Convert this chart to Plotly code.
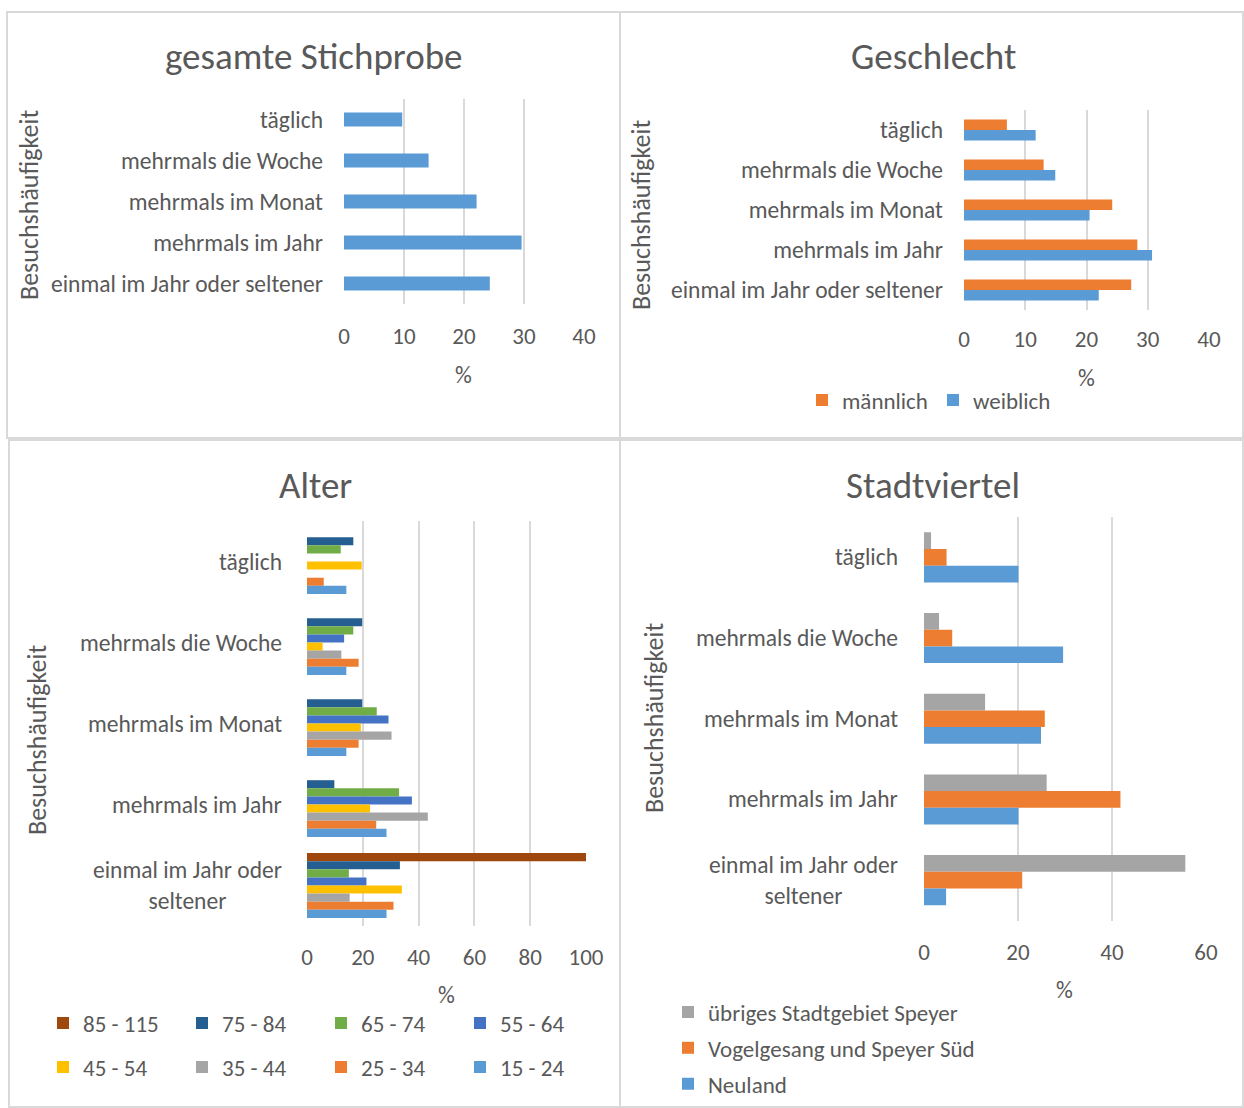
import plotly.graph_objects as go

W, H = 1244, 1108
FONT = "Carlito, Calibri, Lato, sans-serif"
TXT = "#595959"
GRID = "#d9d9d9"

categories = ["täglich", "mehrmals die Woche", "mehrmals im Monat",
              "mehrmals im Jahr", "einmal im Jahr oder seltener"]
category_labels_wrapped = ["täglich", "mehrmals die Woche", "mehrmals im Monat",
                           "mehrmals im Jahr", "einmal im Jahr oder<br>seltener"]

# gesamte Stichprobe
gesamt = [9.7, 14.1, 22.1, 29.6, 24.3]

# Geschlecht
geschlecht_names = ["männlich", "weiblich"]
maennlich = [7.0, 13.0, 24.2, 28.3, 27.3]
weiblich = [11.7, 14.9, 20.5, 30.7, 22.0]

# Alter
alter_names = ["85 - 115", "75 - 84", "65 - 74", "55 - 64",
               "45 - 54", "35 - 44", "25 - 34", "15 - 24"]
alter_85_115 = [0, 0, 0, 0, 100]
alter_75_84 = [16.6, 19.8, 19.8, 9.8, 33.3]
alter_65_74 = [12.1, 16.6, 25.0, 33.0, 15.0]
alter_55_64 = [0, 13.3, 29.2, 37.6, 21.3]
alter_45_54 = [19.6, 5.6, 19.3, 22.6, 34.0]
alter_35_44 = [0, 12.3, 30.3, 43.3, 15.3]
alter_25_34 = [6.0, 18.5, 18.5, 24.8, 31.0]
alter_15_24 = [14.1, 14.1, 14.1, 28.5, 28.5]

# Stadtviertel
viertel_names = ["übriges Stadtgebiet Speyer", "Vogelgesang und Speyer Süd", "Neuland"]
uebriges = [1.5, 3.2, 13.0, 26.1, 55.6]
vogelgesang = [4.8, 6.0, 25.7, 41.8, 20.9]
neuland = [20.1, 29.6, 24.9, 20.1, 4.7]

C_BLUE = "#5B9BD5"
C_ORANGE = "#ED7D31"
C_GRAY = "#A5A5A5"
C_YELLOW = "#FFC000"
C_BLUE2 = "#4472C4"
C_GREEN = "#70AD47"
C_DBLUE = "#255E91"
C_BROWN = "#9E480E"

LBL = 23.5    # category font size
LEG = 23      # legend font size
TICK = 23     # numeric tick labels
TITLE = 37    # panel titles
YT = 26       # y-axis titles


def px(x):
    return x / W


def py(y):
    return 1 - y / H


fig = go.Figure()


def add_group(series, names, colors, xa, ya, bar_w, legend, showlegend=True, groups=False):
    n = len(series)
    total = bar_w * n
    for i, (vals, name, col) in enumerate(zip(series, names, colors)):
        fig.add_trace(go.Bar(
            y=categories, x=vals, orientation="h", name=name,
            marker=dict(color=col, line=dict(width=0)),
            xaxis=xa, yaxis=ya, width=bar_w, offset=-total / 2 + i * bar_w,
            showlegend=showlegend, legend=legend,
            legendgroup=(name if groups else None),
            hoverinfo="x+y+name",
        ))


# Panel 1
add_group([gesamt], ["gesamt"], [C_BLUE], "x", "y", 0.34, "legend", showlegend=False)
# Panel 2
add_group([maennlich, weiblich], geschlecht_names, [C_ORANGE, C_BLUE], "x2", "y2", 0.26, "legend")
# Panel 3 (two legend rows)
alter_series = [alter_85_115, alter_75_84, alter_65_74, alter_55_64,
                alter_45_54, alter_35_44, alter_25_34, alter_15_24]
alter_colors = [C_BROWN, C_DBLUE, C_GREEN, C_BLUE2, C_YELLOW, C_GRAY, C_ORANGE, C_BLUE]
n = len(alter_series)
bw3 = 0.1
for i, (vals, name, col) in enumerate(zip(alter_series, alter_names, alter_colors)):
    fig.add_trace(go.Bar(
        y=categories, x=vals, orientation="h", name=name,
        marker=dict(color=col, line=dict(width=0)),
        xaxis="x3", yaxis="y3", width=bw3, offset=-bw3 * n / 2 + i * bw3,
        legend="legend2" if i < 4 else "legend3",
    ))
# Panel 4
add_group([uebriges, vogelgesang, neuland], viertel_names, [C_GRAY, C_ORANGE, C_BLUE],
          "x4", "y4", 0.207, "legend4", groups=True)

axis_common = dict(showgrid=True, gridcolor=GRID, gridwidth=2, zeroline=False,
                   showline=False, ticks="", automargin=False,
                   tickfont=dict(family=FONT, size=TICK, color=TXT), fixedrange=True)
ycommon = dict(type="category", categoryorder="array", categoryarray=categories,
               autorange="reversed", showgrid=False, zeroline=False, showline=False,
               ticks="", automargin=False,
               tickfont=dict(family=FONT, size=LBL, color=TXT), fixedrange=True)

fig.update_layout(
    xaxis=dict(domain=[px(344), px(584)], anchor="y", range=[0, 40], dtick=10,
               ticklabelstandoff=16, **axis_common),
    yaxis=dict(domain=[py(304), py(99)], anchor="x", ticklabelstandoff=20, **ycommon),
    xaxis2=dict(domain=[px(964), px(1209)], anchor="y2", range=[0, 40], dtick=10,
                ticklabelstandoff=13, **axis_common),
    yaxis2=dict(domain=[py(310), py(110)], anchor="x2", ticklabelstandoff=20, **ycommon),
    xaxis3=dict(domain=[px(307), px(586)], anchor="y3", range=[0, 100], dtick=20,
                ticklabelstandoff=15, **axis_common),
    yaxis3=dict(domain=[py(926), py(521)], anchor="x3", showticklabels=False, **ycommon),
    xaxis4=dict(domain=[px(924), px(1206)], anchor="y4", range=[0, 60], dtick=20,
                ticklabelstandoff=15, **axis_common),
    yaxis4=dict(domain=[py(920.5), py(517)], anchor="x4", showticklabels=False, **ycommon),
)

legend_font = dict(family=FONT, size=LEG, color=TXT)
fig.update_layout(
    legend=dict(orientation="h", x=px(802), y=py(400), xanchor="left", yanchor="middle",
                entrywidth=86, font=legend_font, traceorder="normal",
                bgcolor="rgba(0,0,0,0)"),
    legend2=dict(orientation="h", x=px(43), y=py(1023), xanchor="left", yanchor="middle",
                 entrywidth=94, font=legend_font, traceorder="normal",
                 bgcolor="rgba(0,0,0,0)"),
    legend3=dict(orientation="h", x=px(43), y=py(1067), xanchor="left", yanchor="middle",
                 entrywidth=94, font=legend_font, traceorder="normal",
                 bgcolor="rgba(0,0,0,0)"),
    legend4=dict(orientation="v", x=px(668), y=py(1048), xanchor="left", yanchor="middle",
                 font=legend_font, traceorder="grouped", tracegroupgap=3,
                 bgcolor="rgba(0,0,0,0)"),
)

annotations = []
# Titles
for text, x, y in [("gesamte Stichprobe", 314, 56), ("Geschlecht", 933, 56),
                   ("Alter", 315, 485), ("Stadtviertel", 933, 485)]:
    annotations.append(dict(text=text, x=px(x), y=py(y), xref="paper", yref="paper",
                            showarrow=False, xanchor="center", yanchor="middle",
                            font=dict(family=FONT, size=TITLE, color=TXT)))
# y-axis titles
for x, y in [(29, 205), (641, 215), (37, 740), (654, 718)]:
    annotations.append(dict(text="Besuchshäufigkeit", x=px(x), y=py(y), xref="paper",
                            yref="paper", showarrow=False, textangle=-90,
                            xanchor="center", yanchor="middle",
                            font=dict(family=FONT, size=YT, color=TXT)))
# x-axis titles
for x, y in [(463, 375), (1086, 378), (446, 995), (1064, 990)]:
    annotations.append(dict(text="%", x=px(x), y=py(y), xref="paper", yref="paper",
                            showarrow=False, xanchor="center", yanchor="middle",
                            font=dict(family=FONT, size=LBL, color=TXT)))
# category labels for panels 3 and 4 (centered wrapping)
for yref, xr in [("y3", 284), ("y4", 900)]:
    for cat, lab in zip(categories, category_labels_wrapped):
        annotations.append(dict(text=lab, x=px(xr), y=cat, xref="paper", yref=yref,
                                showarrow=False, xanchor="right", yanchor="middle",
                                align="center",
                                font=dict(family=FONT, size=LBL, color=TXT)))
fig.update_layout(annotations=annotations)

# Panel borders
shapes = []
for x0, y0, x1, y1 in [(7, 12, 620, 438), (620, 12, 1243, 438),
                       (9, 440, 620, 1107), (620, 440, 1243, 1107)]:
    shapes.append(dict(type="rect", xref="paper", yref="paper",
                       x0=px(x0), x1=px(x1), y0=py(y1), y1=py(y0),
                       line=dict(color=GRID, width=2), fillcolor="rgba(0,0,0,0)",
                       layer="below"))
fig.update_layout(shapes=shapes)

fig.update_layout(
    width=W, height=H, autosize=False,
    margin=dict(l=0, r=0, t=0, b=0, pad=0, autoexpand=False),
    paper_bgcolor="white", plot_bgcolor="white",
    barmode="group", font=dict(family=FONT, color=TXT),
)

fig.write_html(
    "out.html",
    config={"responsive": False, "displayModeBar": False},
    post_script=("document.documentElement.style.overflow='hidden';"
                 "document.body.style.margin='0';document.body.style.overflow='hidden';"),
)
